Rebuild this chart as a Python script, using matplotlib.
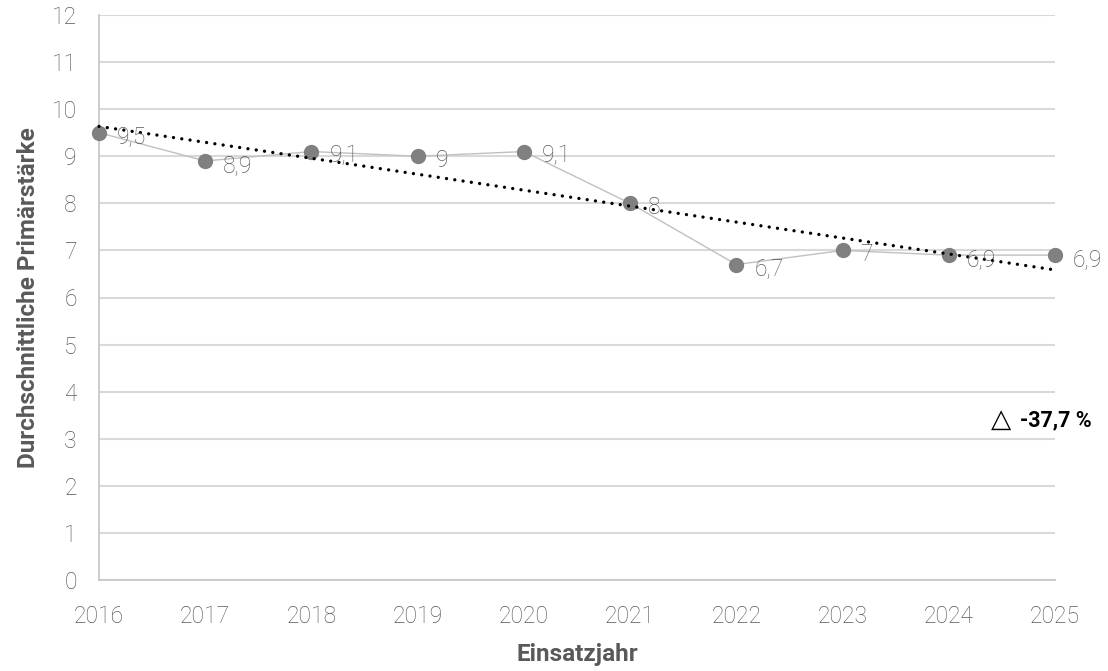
import matplotlib
matplotlib.use("Agg")
import matplotlib.pyplot as plt
import numpy as np

years = [2016, 2017, 2018, 2019, 2020, 2021, 2022, 2023, 2024, 2025]
values = [9.5, 8.9, 9.1, 9.0, 9.1, 8.0, 6.7, 7.0, 6.9, 6.9]
labels = ["9,5", "8,9", "9,1", "9", "9,1", "8", "6,7", "7", "6,9", "6,9"]
yticks = list(range(0, 13))
change_symbol = "\u25b3"
change_text = "-37,7 %"

plt.rcParams['font.family'] = ['Roboto', 'DejaVu Sans']

fig = plt.figure(figsize=(11.08, 6.71), dpi=100)
ax = fig.add_axes([99/1108, 1-580/671, (1055-99)/1108, (580-15)/671])

ax.set_xlim(years[0], years[-1])
ax.set_ylim(0, 12)
ax.set_yticks(yticks)
ax.set_xticks(years)
ax.grid(axis='y', color='#d9d9d9', linewidth=1.5)
ax.set_axisbelow(True)
for s in ['top', 'right']:
    ax.spines[s].set_visible(False)
for s in ['left', 'bottom']:
    ax.spines[s].set_color('#c8c8c8')
    ax.spines[s].set_linewidth(1.3)
ax.tick_params(length=0, labelsize=16.5, labelcolor='#595959')
ax.tick_params(axis='x', pad=18)
ax.tick_params(axis='y', pad=16)
for t in ax.get_xticklabels() + ax.get_yticklabels():
    t.set_fontweight('light')

ax.plot(years, values, color='#c0c0c0', linewidth=1, marker='o', markersize=10,
        markerfacecolor='#808080', markeredgecolor='#808080', zorder=3, clip_on=False)

x = np.array(years, dtype=float)
coef = np.polyfit(x, values, 1)
ax.plot(x, np.polyval(coef, x), color='black', linestyle=(0, (0.01, 2.5)), linewidth=2.4,
        zorder=4, dash_capstyle='round', solid_capstyle='round', clip_on=False)

for xi, yi, lab in zip(years, values, labels):
    ax.annotate(lab, (xi, yi), xytext=(13, -3), textcoords='offset points',
                ha='left', va='center', fontsize=16.5, color='#595959',
                fontweight='light', zorder=5, annotation_clip=False)

ax.set_xlabel("Einsatzjahr", fontsize=17.5, fontweight='bold', color='#595959')
ax.xaxis.set_label_coords(577/1108, 1-643/671, transform=fig.transFigure)
ax.set_ylabel("Durchschnittliche Primärstärke", fontsize=17.5, fontweight='bold',
              color='#595959')
ax.yaxis.set_label_coords(40/1108, 1-298/671, transform=fig.transFigure)

fig.text(1001.5/1108, 1-420/671, change_symbol, fontsize=19, family='DejaVu Sans',
         color='black', ha='center', va='center')
fig.text(1020/1108, 1-420/671, change_text, fontsize=15.5, fontweight='bold',
         color='black', ha='left', va='center')

fig.savefig("out.png", dpi=100)
